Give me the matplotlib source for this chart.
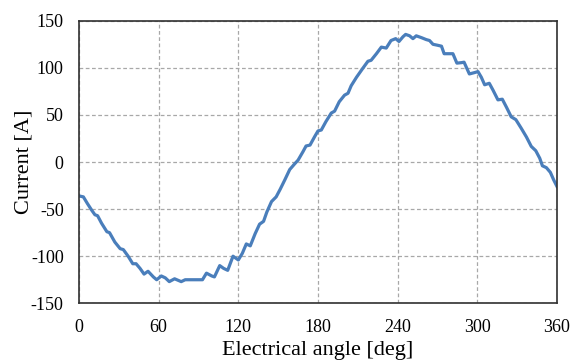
import matplotlib
matplotlib.use("Agg")
import matplotlib.pyplot as plt

angle_deg = [0, 3.3, 6.3, 9.5, 12, 14, 17, 21, 23, 27, 31, 33.4, 37, 40.5, 43, 46, 49, 52, 56, 58.5,
             62, 65, 68, 72, 77, 80, 84, 91, 93, 96, 100, 102, 106, 109, 112, 116, 120, 123, 126, 129,
             132.7, 136, 139, 141.5, 145, 148.5, 151.5, 155, 158.7, 162.4, 165, 168.7, 171, 174, 177.5,
             180, 182.5, 186, 190, 192.5, 196, 200, 202.6, 205, 209, 211, 214, 217.6, 220, 224, 227.7,
             231.4, 235, 238.5, 241, 244, 246, 249, 251.5, 254, 258, 261.5, 264, 266.6, 270, 273, 275,
             278, 281.6, 284.6, 288, 290, 294, 298, 300.5, 303, 305.5, 309, 311.7, 315.5, 318.8, 322,
             325.5, 329, 333, 337, 340.6, 344, 347, 349, 352, 355, 357.5, 360]
current_a = [-36, -37, -44, -51, -56, -57, -65, -74, -75, -85, -92, -93, -100, -108, -108, -113, -119,
             -116, -122, -125, -121, -123, -127, -124, -127, -125, -125, -125, -125, -118, -121, -122,
             -110, -113, -115, -100, -104, -97, -87, -89, -76, -66, -63, -53, -42, -37, -29, -19, -8,
             -2, 2, 11, 17, 18, 27, 33, 34, 43, 52, 54, 64, 71, 73, 81, 90, 94, 100, 107, 108, 115,
             122, 121, 129, 131, 128, 133, 135.5, 134, 131, 134, 132, 130, 129, 125, 124, 123, 115,
             115, 115, 105, 105.5, 106, 93.5, 95, 96, 90, 82, 83.6, 76.6, 66, 66.7, 58, 48, 45, 36,
             26.5, 16.6, 12, 4, -4, -6, -11, -19, -26]
x_ticks = [0, 60, 120, 180, 240, 300, 360]
y_ticks = [-150, -100, -50, 0, 50, 100, 150]

plt.rcParams['font.family'] = ['Liberation Serif', 'DejaVu Serif']
plt.rcParams['axes.unicode_minus'] = False

fig = plt.figure(figsize=(5.74, 3.64), dpi=100)
ax = fig.add_axes([0.1376, 0.1668, 0.8328, 0.7762])
ax.plot(angle_deg, current_a, color='#4a7ebb', linewidth=2.3, solid_joinstyle='round')
ax.set_xlim(0, 360)
ax.set_ylim(-150, 150)
ax.set_xticks(x_ticks)
ax.set_yticks(y_ticks)
ax.grid(True, color='#a8a8a8', linestyle=(0, (3, 2)), linewidth=0.9)
ax.set_axisbelow(True)
ax.tick_params(length=0, labelsize=13, pad=11)
for s in ax.spines.values():
    s.set_color('#303030')
    s.set_linewidth(1.2)
ax.set_xlabel('Electrical angle [deg]', fontsize=16, labelpad=4)
ax.set_ylabel('Current [A]', fontsize=16, labelpad=-2)
fig.savefig('out.png', dpi=100)
